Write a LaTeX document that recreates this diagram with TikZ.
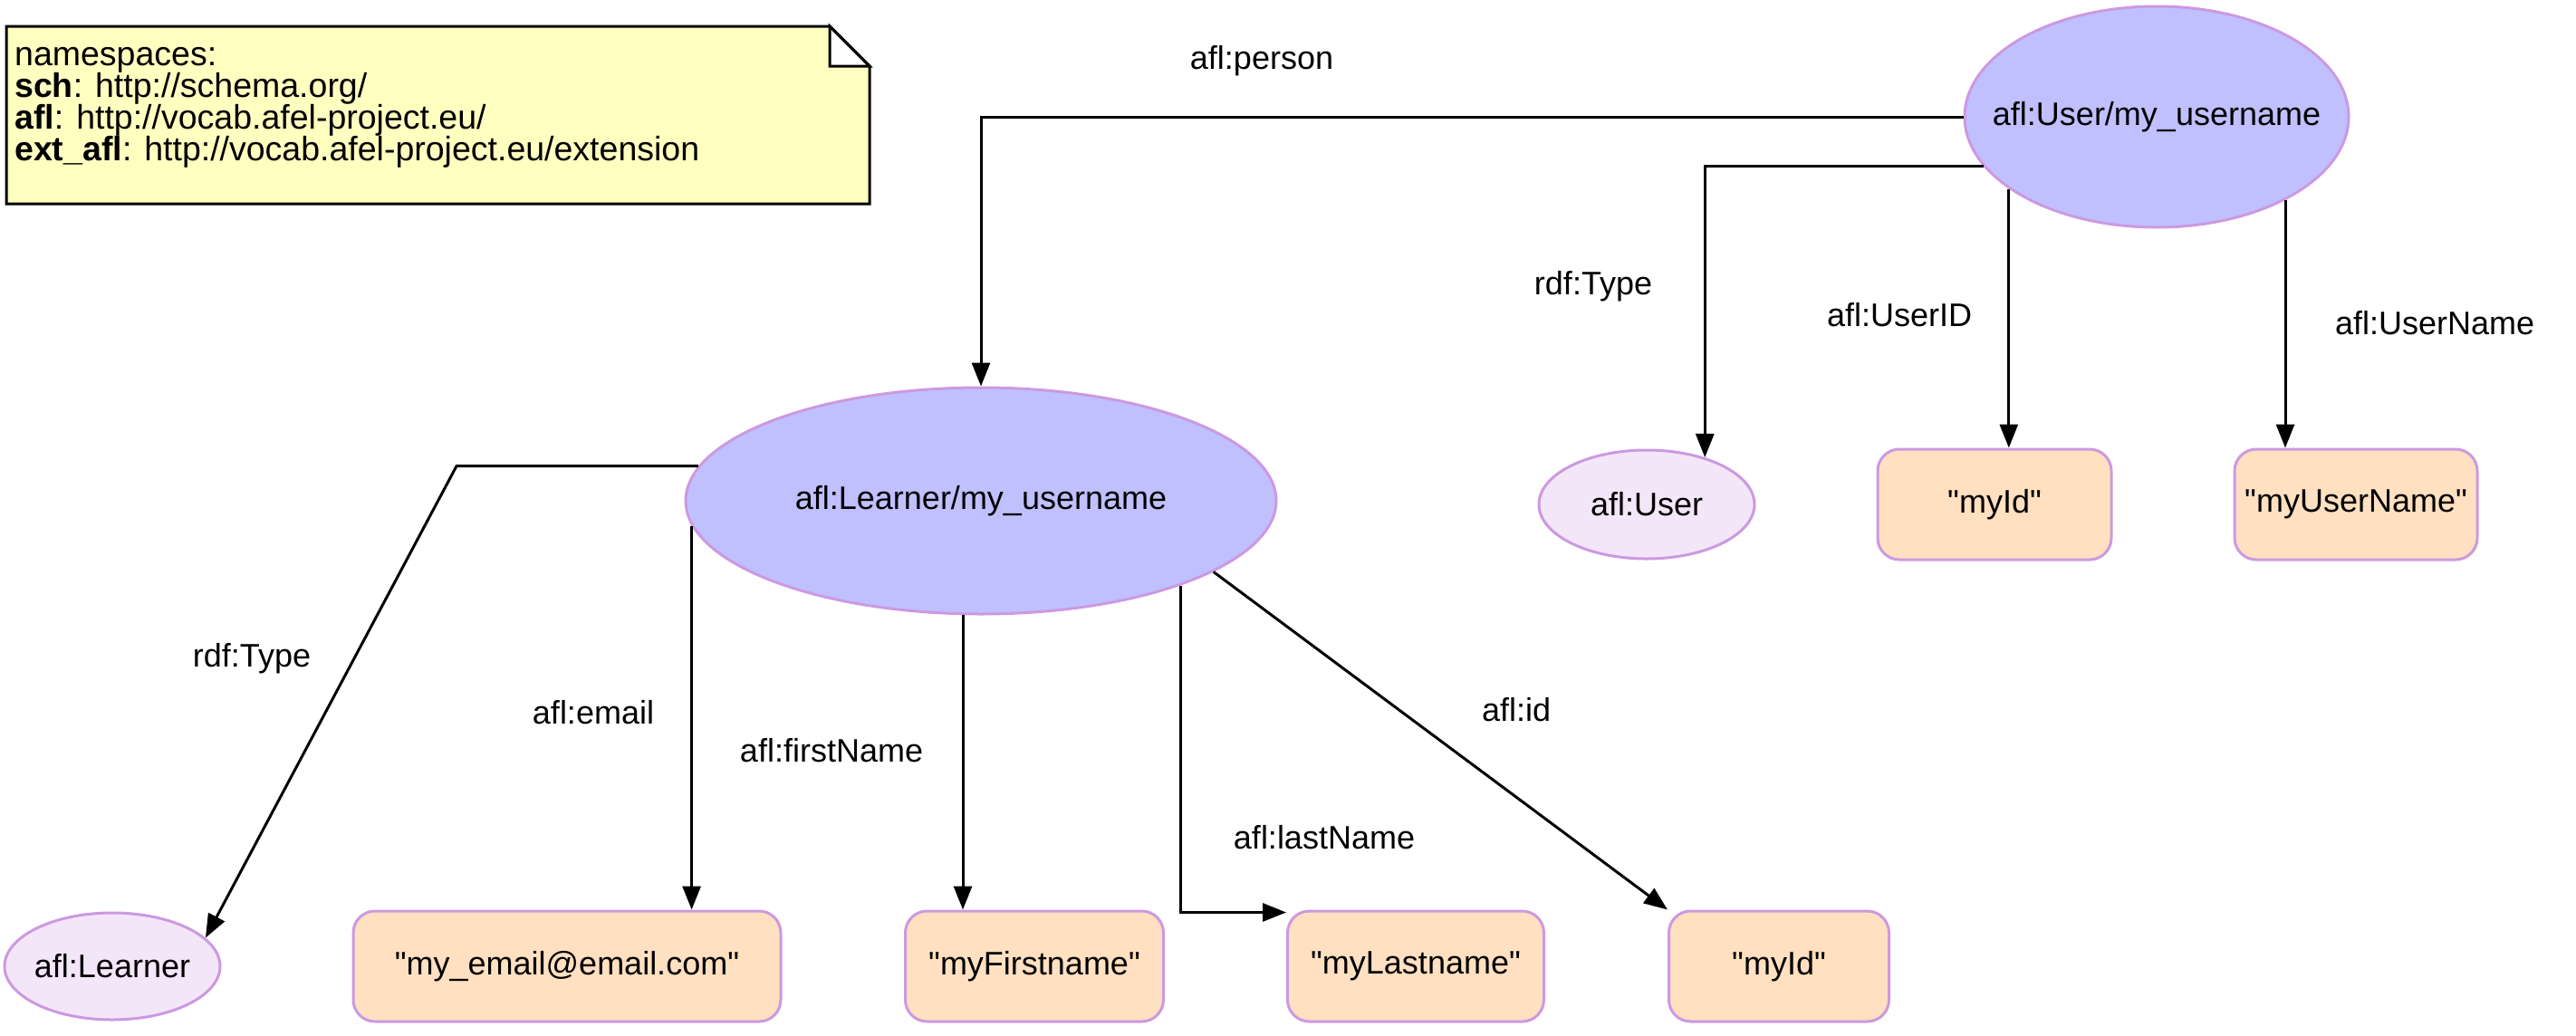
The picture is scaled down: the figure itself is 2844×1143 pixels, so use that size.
\documentclass[tikz,border=0pt]{standalone}
\usepackage{fontspec}
\setmainfont{Liberation Sans}[Ligatures=TeXOff]
\usetikzlibrary{arrows.meta,shapes.geometric,calc}
\definecolor{bigfill}{RGB}{192,192,255}
\definecolor{lilac}{RGB}{204,153,225}
\definecolor{smallfill}{RGB}{243,230,248}
\definecolor{litfill}{RGB}{255,224,192}
\definecolor{notefill}{RGB}{255,255,192}
\newcommand{\sq}{\symbol{34}}
\newcommand{\zb}[1]{\makebox[0pt]{#1}}
\begin{document}
\begin{tikzpicture}[x=1pt,y=-1pt,
  every node/.style={font=\fontsize{36}{40}\selectfont},
  bigell/.style={ellipse, draw=lilac, fill=bigfill, line width=3pt, inner sep=0pt},
  smallell/.style={ellipse, draw=lilac, fill=smallfill, line width=3pt, inner sep=0pt},
  litbox/.style={rectangle, rounded corners=24pt, draw=lilac, fill=litfill, line width=3pt, inner sep=0pt, minimum height=122pt},
  arr/.style={line width=3pt, -{Triangle[length=26pt,width=20pt]}},
  lbl/.style={inner sep=0pt},
  notetxt/.style={inner sep=0pt, anchor=base west, font=\fontsize{37.5}{40}\selectfont}]
\useasboundingbox (0,0) rectangle (2844,1143);
% note
\draw[line width=3pt, fill=notefill] (7,29) -- (916,29) -- (960,73) -- (960,225) -- (7,225) -- cycle;
\draw[line width=3pt, fill=white, line join=miter] (916,29) -- (916,73) -- (960,73) -- cycle;
\node[notetxt] (n1) at (16,72) {namespaces:};
\node[notetxt] (n2) at (16,107) {\textbf{sch}: http://schema.org/};
\node[notetxt] (n3) at (16,142) {\textbf{afl}: http://vocab.afel-project.eu/};
\node[notetxt] (n4) at (16,177) {\textbf{ext\_afl}: http://vocab.afel-project.eu/extension};
% nodes
\node[bigell, minimum width=424pt, minimum height=244pt] (U) at (2381,129) {\zb{afl:User/my\_username}};
\node[bigell, minimum width=652pt, minimum height=250pt] (L) at (1083,553) {\zb{afl:Learner/my\_username}};
\node[smallell, minimum width=238pt, minimum height=120pt] (AU) at (1818,557) {\zb{afl:User}};
\node[litbox, minimum width=258pt] (MI) at (2202,557) {\sq myId\sq};
\node[litbox, minimum width=268pt] (MU) at (2601,557) {\sq myUserName\sq};
\node[smallell, minimum width=238pt, minimum height=118pt] (AL) at (124,1067) {\zb{afl:Learner}};
\node[litbox, minimum width=472pt] (E) at (626,1067) {\sq my\_email@email.com\sq};
\node[litbox, minimum width=285pt] (F) at (1142,1067) {\sq myFirstname\sq};
\node[litbox, minimum width=283pt] (LN) at (1563,1067) {\sq myLastname\sq};
\node[litbox, minimum width=243pt] (I2) at (1964,1067) {\sq myId\sq};
% edges
\draw[arr] (U.west) -| (L.north);
\draw[arr] (U.196) -| (AU.39);
\draw[arr] (U.206) -- (U.206 |- MI.north);
\draw[arr] (U.327) -- (U.327 |- MU.north);
\coordinate (LT) at (504,517);
\draw[arr] (L.173) -- (L.173 -| LT) -- (AL.17);
\draw[arr] (L.185) -- (L.185 |- E.north);
\draw[arr] (L.261) -- (L.261 |- F.north);
\draw[arr] (L.337) |- ($(LN.north west)+(0,3)$);
\draw[arr] (L.343) -- (I2.north west);
% labels
\node[lbl] (l1) at (1393,67) {afl:person};
\node[lbl] (l2) at (1759,316) {rdf:Type};
\node[lbl] (l3) at (2097,348) {afl:UserID};
\node[lbl] (l4) at (2688,357) {afl:UserName};
\node[lbl] (l5) at (278,727) {rdf:Type};
\node[lbl] (l6) at (655,787) {afl:email};
\node[lbl] (l7) at (918,829) {afl:firstName};
\node[lbl] (l8) at (1462,925) {afl:lastName};
\node[lbl] (l9) at (1674,784) {afl:id};
\end{tikzpicture}
\end{document}
